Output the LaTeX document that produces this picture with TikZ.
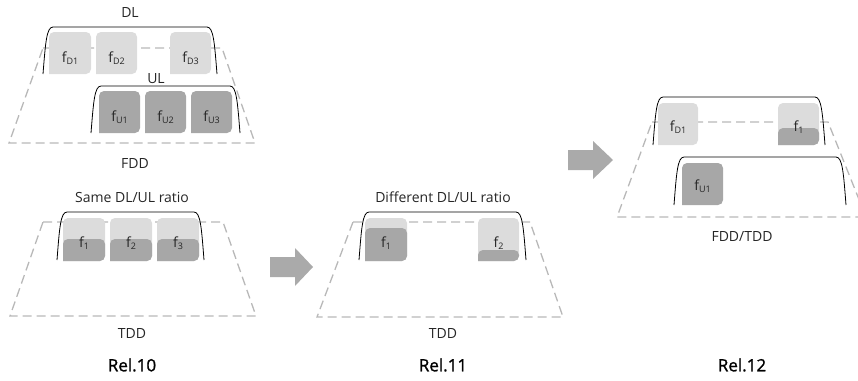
\documentclass[tikz,border=0pt]{standalone}
\usepackage{fontspec}
\setmainfont{Open Sans}
\newfontfamily\relfont{Open Sans}[FakeBold=1.2]
\definecolor{lightch}{HTML}{DCDCDC}
\definecolor{darkch}{HTML}{A7A7A7}
\definecolor{dashgray}{HTML}{B8B8B8}
\definecolor{arrowgray}{HTML}{AAAAAA}
\definecolor{txt}{HTML}{262626}

% channel block with rounded top corners: left, top, right, bottom, colour
\newcommand\chblock[5]{%
  \fill[#5] (#1,#4) [rounded corners=5pt] -- (#1,#2) -- (#3,#2) -- (#3,#4) [sharp corners] -- cycle;}
% bracket over a group of channels: left, top, right, bottom
\newcommand\grpbracket[4]{%
  \draw[grpline] (#1,#4) .. controls (#1+2.5,#2+16) and (#1+3.5,#2) .. (#1+10,#2)
     -- (#3-10,#2) .. controls (#3-3.5,#2) and (#3-2.5,#2+16) .. (#3,#4);}
% block arrow: tail x, head base x, tip x, centre y
\newcommand\blockarrow[4]{%
  \fill[arrowgray] (#1,#4-10) -- (#2,#4-10) -- (#2,#4-19) -- (#3,#4) -- (#2,#4+19) -- (#2,#4+10) -- (#1,#4+10) -- cycle;}

\tikzset{
  trap/.style={draw=dashgray, line width=1.3pt, dash pattern=on 9pt off 5pt},
  grpline/.style={draw=black, line width=0.8pt},
  lbl/.style={text=txt, font=\fontsize{14}{16}\selectfont, inner sep=0pt},
  chl/.style={text=txt, font=\fontsize{14}{16}\selectfont, inner sep=0pt},
  rel/.style={text=black, font=\relfont\fontsize{17}{19}\selectfont, inner sep=0pt},
}
\newcommand\sub[1]{\raisebox{-0.3ex}{\fontsize{9}{10}\selectfont #1}}

\begin{document}
\begin{tikzpicture}[x=1pt,y=-1pt]
\useasboundingbox (0,0) rectangle (858,380);
\clip (0,0) rectangle (858,380);

% ---------- Rel.10, FDD ----------
\draw[trap] (43,48) -- (222,48) -- (255,143) -- (9,143) -- cycle;
\chblock{49}{32}{91}{74}{lightch}
\chblock{96}{32}{137}{74}{lightch}
\chblock{170}{32}{211}{74}{lightch}
\grpbracket{43}{27}{217}{74}
\chblock{99}{91}{140}{133}{darkch}
\chblock{145}{91}{186}{133}{darkch}
\chblock{191}{91}{232}{133}{darkch}
\grpbracket{91}{86}{240}{133}
\node[lbl] (dl) at (130,13) {DL};
\node[lbl] (ul) at (156,79) {UL};
\node[lbl] (fdd) at (135,163) {FDD};
\node[chl] (fd1) at (70,58) {f\sub{D1}};
\node[chl] (fd2) at (116.5,58) {f\sub{D2}};
\node[chl] (fd3) at (190.5,58) {f\sub{D3}};
\node[chl] (fu1) at (119.5,117) {f\sub{U1}};
\node[chl] (fu2) at (165.5,117) {f\sub{U2}};
\node[chl] (fu3) at (211.5,117) {f\sub{U3}};

% ---------- Rel.10, TDD ----------
\draw[trap] (43,222) -- (223,222) -- (256,316) -- (10,316) -- cycle;
\foreach \x in {63,110,157}{
  \chblock{\x}{218}{\x+42}{261}{lightch}
  \chblock{\x}{239}{\x+42}{261}{darkch}
}
\grpbracket{57}{212}{204}{260}
\node[lbl] (same) at (132,197) {Same DL/UL ratio};
\node[chl] (t1) at (84,243) {f\sub{1}};
\node[chl] (t2) at (131,243) {f\sub{2}};
\node[chl] (t3) at (178,243) {f\sub{3}};
\node[lbl] (tdda) at (132,333) {TDD};
\node[rel] (rel10) at (132,365) {Rel.10};

% ---------- Rel.11 ----------
\blockarrow{270}{295}{313}{267}
\draw[trap] (353,222) -- (530,222) -- (563,317) -- (317,317) -- cycle;
\chblock{365}{218}{407}{261}{lightch}
\chblock{365}{228}{407}{261}{darkch}
\chblock{478}{218}{519}{261}{lightch}
\chblock{478}{250}{519}{261}{darkch}
\grpbracket{359}{212}{526}{260}
\node[lbl] (diff) at (443,197) {Different DL/UL ratio};
\node[chl] (r1) at (386,243) {f\sub{1}};
\node[chl] (r2) at (498.5,243) {f\sub{2}};
\node[lbl] (tddb) at (443,333) {TDD};
\node[rel] (rel11) at (443,365) {Rel.11};

% ---------- Rel.12 ----------
\blockarrow{568}{593}{613}{160}
\draw[trap] (652,122) -- (828,122) -- (866,217) -- (617,217) -- cycle;
\chblock{658}{103}{698}{145}{lightch}
\chblock{778}{103}{819}{145}{lightch}
\chblock{778}{128}{819}{145}{darkch}
\grpbracket{653}{97}{825}{145}
\chblock{682}{163}{723}{205}{darkch}
\grpbracket{674}{157}{846}{205}
\node[chl] (cd1) at (678,127) {f\sub{D1}};
\node[chl] (c1) at (798.5,127) {f\sub{1}};
\node[chl] (cu1) at (702.5,186) {f\sub{U1}};
\node[lbl] (fddtdd) at (742,236) {FDD/TDD};
\node[rel] (rel12) at (742,365) {Rel.12};
\end{tikzpicture}
\end{document}
